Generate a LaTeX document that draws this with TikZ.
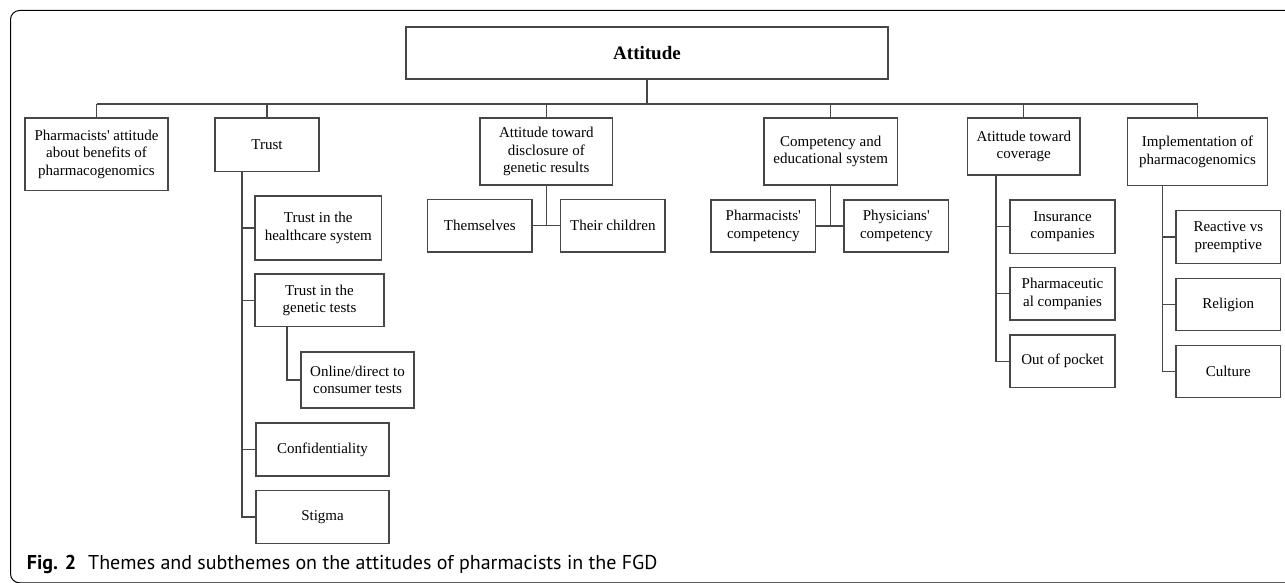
\documentclass[tikz,border=0pt]{standalone}
\usepackage{fontspec}
\setmainfont{Liberation Serif}
\newfontfamily\capfont{PT Sans}
\definecolor{ln}{HTML}{474747}
\newcommand{\ap}{\textquotesingle}
\begin{document}
\begin{tikzpicture}[x=1pt,y=-1pt,
  box/.style={draw=ln, line width=1.2pt, inner sep=0pt, align=center,
    font=\fontsize{15}{17.3}\selectfont},
  conn/.style={draw=ln, line width=1.2pt}]
\useasboundingbox (0,0) rectangle (1285,583);
\draw[line width=1pt, rounded corners=9pt] (10.5,10.5) rectangle (1300,582.8);
% top
\node[box, minimum width=482pt, minimum height=52pt, font=\fontsize{19}{22}\selectfont\bfseries] (att) at (647,53) {Attitude};
% level 1
\node[box, minimum width=143pt, minimum height=72.7pt] (p1) at (96.5,154.3) {Pharmacists\ap{} attitude\\about benefits of\\pharmacogenomics};
\node[box, minimum width=104pt, minimum height=53.7pt] (trust) at (267,144.8) {Trust};
\node[box, minimum width=132.7pt, minimum height=67pt] (disc) at (546.3,151.5) {Attitude toward\\disclosure of\\genetic results};
\node[box, minimum width=133.3pt, minimum height=67pt] (comp) at (830.7,151.5) {Competency and\\educational system};
\node[box, minimum width=112.3pt, minimum height=57pt] (cov) at (1023.8,146.5) {Atittude toward\\coverage};
\node[box, minimum width=140.4pt, minimum height=67.3pt] (impl) at (1197.5,151.7) {Implementation of\\pharmacogenomics};
% trust children
\node[box, minimum width=126.7pt, minimum height=64pt] (t1) at (318.3,228) {Trust in the\\healthcare system};
\node[box, minimum width=129pt, minimum height=52.7pt] (t2) at (319.5,300.3) {Trust in the\\genetic tests};
\node[box, minimum width=113pt, minimum height=56pt] (t3) at (357.5,380) {Online/direct to\\consumer tests};
\node[box, minimum width=133pt, minimum height=53pt] (t4) at (322.5,449.5) {Confidentiality};
\node[box, minimum width=133pt, minimum height=52.3pt] (t5) at (322.5,517) {Stigma};
% disclosure children
\node[box, minimum width=104.3pt, minimum height=52.3pt] (d1) at (479.8,225.8) {Themselves};
\node[box, minimum width=104.3pt, minimum height=52.3pt] (d2) at (612.8,225.8) {Their children};
% competency children
\node[box, minimum width=104.7pt, minimum height=52pt] (c1) at (763.3,226) {Pharmacists\ap\\competency};
\node[box, minimum width=104.7pt, minimum height=52pt] (c2) at (896.3,226) {Physicians\ap\\competency};
% coverage children
\node[box, minimum width=105pt, minimum height=53.3pt] (v1) at (1062.5,226.7) {Insurance\\companies};
\node[box, minimum width=105pt, minimum height=52.3pt] (v2) at (1062.5,293.8) {Pharmaceutic\\al companies};
\node[box, minimum width=105pt, minimum height=52.3pt] (v3) at (1062.5,361.2) {Out of pocket};
% implementation children
\node[box, minimum width=104.7pt, minimum height=52.6pt] (i1) at (1228.3,237) {Reactive vs\\preemptive};
\node[box, minimum width=104.7pt, minimum height=52.4pt] (i2) at (1228.3,304.5) {Religion};
\node[box, minimum width=104.7pt, minimum height=52pt] (i3) at (1228.3,371.7) {Culture};
% bus
\coordinate (busL) at (96.5,104);
\coordinate (busR) at (1197.5,104);
\draw[conn] (busL) -- (busR);
\draw[conn] (att.south) -- (att.south |- busL);
\foreach \n in {p1,trust,disc,comp,cov,impl}
  \draw[conn] (\n.north) -- (\n.north |- busL);
% trust spine
\coordinate (ts) at ([xshift=-25pt]trust.south);
\foreach \n in {t1,t2,t4,t5}
  \draw[conn] (ts) |- (\n.west);
\coordinate (t2s) at ([xshift=-32.5pt]t2.south);
\draw[conn] (t2s) |- (t3.west);
% disclosure
\draw[conn] (disc.south) -- (disc.south |- d1.east);
\draw[conn] (d1.east) -- (d2.west);
% competency
\draw[conn] (comp.south) -- (comp.south |- c1.east);
\draw[conn] (c1.east) -- (c2.west);
% coverage
\coordinate (cs) at ([xshift=-27.8pt]cov.south);
\foreach \n in {v1,v2,v3}
  \draw[conn] (cs) |- (\n.west);
% implementation
\coordinate (is) at ([xshift=-35.2pt]impl.south);
\foreach \n in {i1,i2,i3}
  \draw[conn] (is) |- (\n.west);
% caption
\node[anchor=base west, inner sep=0pt, font=\capfont\fontsize{20}{24}\selectfont] (cap) at (26.7,569.3) {\textbf{Fig. 2}\hspace{0.6em}Themes and subthemes on the attitudes of pharmacists in the FGD};
\end{tikzpicture}
\end{document}
